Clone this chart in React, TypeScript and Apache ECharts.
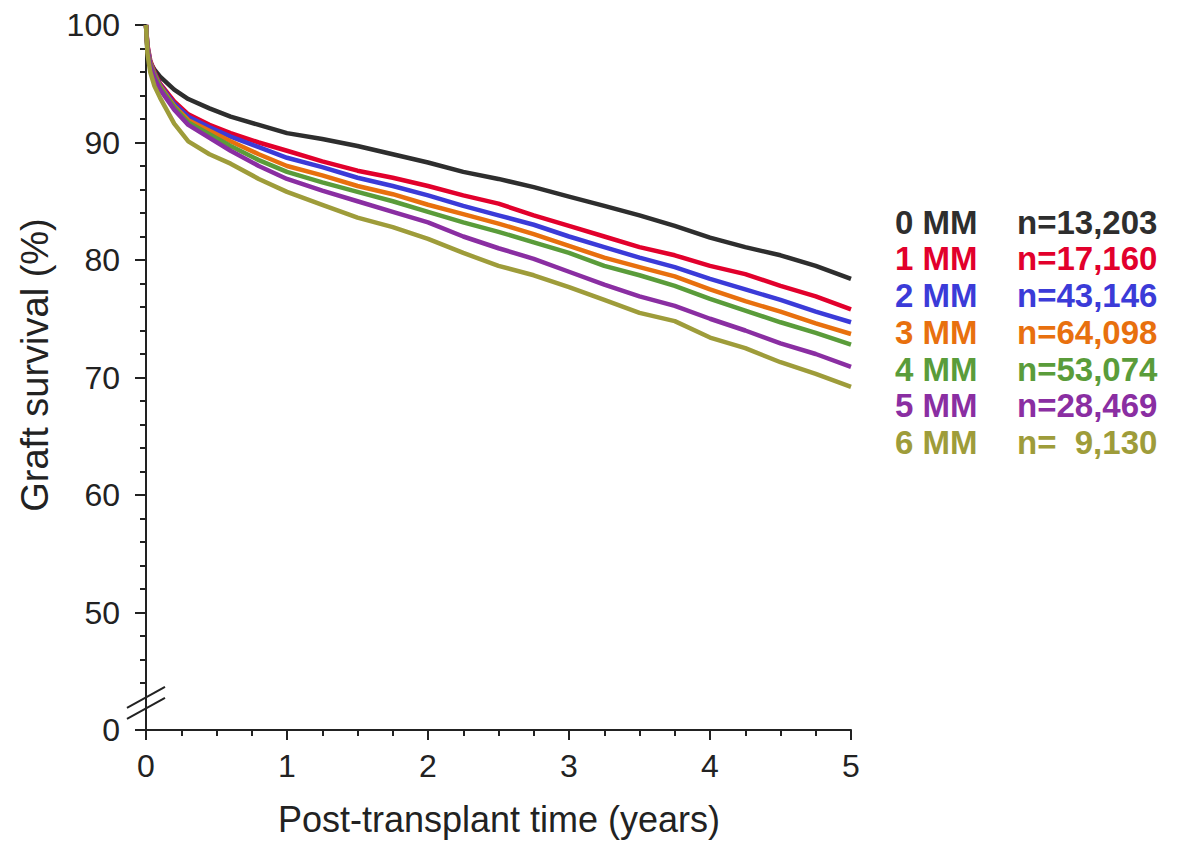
import React, { useEffect, useRef } from "react";
import * as echarts from "echarts";

// Post-transplant time (years)
const TIMES = [0, 0.01, 0.03, 0.06, 0.1, 0.2, 0.3, 0.45, 0.6, 0.8, 1, 1.25, 1.5, 1.75, 2, 2.25, 2.5, 2.75, 3, 3.25, 3.5, 3.75, 4, 4.25, 4.5, 4.75, 5];

// Graft survival (%) per HLA mismatch group
const MM0 = [100, 97.8, 96.8, 96.2, 95.6, 94.5, 93.7, 92.9, 92.2, 91.5, 90.8, 90.3, 89.7, 89.0, 88.3, 87.5, 86.9, 86.2, 85.4, 84.6, 83.8, 82.9, 81.9, 81.1, 80.4, 79.5, 78.4];
const MM1 = [100, 98.3, 97.0, 96.0, 95.0, 93.5, 92.4, 91.5, 90.8, 90.0, 89.3, 88.4, 87.6, 87.0, 86.3, 85.5, 84.8, 83.8, 82.9, 82.0, 81.1, 80.4, 79.5, 78.8, 77.8, 76.9, 75.8];
const MM2 = [100, 98.2, 96.9, 95.9, 94.9, 93.3, 92.2, 91.3, 90.5, 89.6, 88.7, 87.9, 87.0, 86.3, 85.5, 84.6, 83.8, 83.0, 82.0, 81.1, 80.2, 79.4, 78.4, 77.5, 76.6, 75.6, 74.7];
const MM3 = [100, 98.1, 96.8, 95.8, 94.8, 93.1, 91.9, 91.0, 90.1, 89.0, 88.0, 87.2, 86.3, 85.6, 84.7, 83.9, 83.1, 82.2, 81.2, 80.2, 79.4, 78.6, 77.5, 76.5, 75.6, 74.6, 73.7];
const MM4 = [100, 98.0, 96.7, 95.7, 94.7, 93.0, 91.7, 90.7, 89.7, 88.5, 87.5, 86.6, 85.8, 85.0, 84.1, 83.2, 82.4, 81.5, 80.6, 79.5, 78.7, 77.8, 76.7, 75.7, 74.7, 73.8, 72.8];
const MM5 = [100, 98.0, 96.6, 95.5, 94.5, 92.8, 91.5, 90.4, 89.3, 88.0, 86.9, 85.9, 85.0, 84.1, 83.2, 82.0, 81.0, 80.1, 79.0, 77.9, 76.9, 76.1, 75.0, 74.0, 72.9, 72.0, 70.9];
const MM6 = [100, 97.6, 96.0, 94.8, 93.8, 91.6, 90.1, 89.0, 88.2, 86.9, 85.8, 84.7, 83.6, 82.8, 81.8, 80.6, 79.5, 78.7, 77.7, 76.6, 75.5, 74.8, 73.4, 72.5, 71.3, 70.3, 69.2];

const SERIES_VALUES = [MM0, MM1, MM2, MM3, MM4, MM5, MM6];
const GROUPS = ["0 MM", "1 MM", "2 MM", "3 MM", "4 MM", "5 MM", "6 MM"];
const COUNTS = ["n=13,203", "n=17,160", "n=43,146", "n=64,098", "n=53,074", "n=28,469", "n=\u00a0\u00a09,130"];
const COLORS = ["#2e2e2e", "#e2002c", "#3b3bd8", "#e8700e", "#5a9c3a", "#8a2ea2", "#9e9c3a"];

// y axis: the bottom of the axis (value 40 on the scale) is shown as "0" after a break
const Y_MIN = 40;
const Y_MAX = 100;
const Y_BREAK_VALUE = 42.3;
const Y_HIDDEN_MINOR = 42;

const X_TITLE = "Post-transplant time (years)";
const Y_TITLE = "Graft survival (%)";

const FONT = "'Liberation Sans', Arial, Helvetica, sans-serif";
const AXIS_COLOR = "#222";

export default function App() {
  const ref = useRef<HTMLDivElement>(null);

  useEffect(() => {
    if (!ref.current) return;
    const chart = echarts.init(ref.current, null, { renderer: "svg" });

    chart.setOption({
      animation: false,
      grid: { left: 146, right: 330, top: 25, bottom: 113, containLabel: false },
      xAxis: {
        type: "value",
        min: 0,
        max: 5,
        interval: 1,
        axisLine: { onZero: false, lineStyle: { color: AXIS_COLOR, width: 2 } },
        axisTick: { length: 10, lineStyle: { color: AXIS_COLOR, width: 2 } },
        minorTick: { show: true, splitNumber: 4, length: 6, lineStyle: { color: AXIS_COLOR, width: 2 } },
        splitLine: { show: false },
        minorSplitLine: { show: false },
        axisLabel: { fontSize: 32, color: AXIS_COLOR, margin: 20, fontFamily: FONT },
      },
      yAxis: {
        type: "value",
        min: Y_MIN,
        max: Y_MAX,
        interval: 10,
        axisLine: { onZero: false, lineStyle: { color: AXIS_COLOR, width: 2 } },
        axisTick: { length: 11, lineStyle: { color: AXIS_COLOR, width: 2 } },
        minorTick: { show: true, splitNumber: 5, length: 6, lineStyle: { color: AXIS_COLOR, width: 2 } },
        splitLine: { show: false },
        minorSplitLine: { show: false },
        axisLabel: {
          fontSize: 32,
          color: AXIS_COLOR,
          margin: 26,
          fontFamily: FONT,
          formatter: (v: number) => (v === Y_MIN ? "0" : String(v)),
        },
      },
      series: SERIES_VALUES.map((vals, i) => ({
        type: "line",
        name: GROUPS[i],
        data: TIMES.map((t, j) => [t, vals[j]]),
        showSymbol: false,
        symbol: "none",
        lineStyle: { color: COLORS[i], width: 4.5 },
        itemStyle: { color: COLORS[i] },
        z: 2 + i,
      })),
    });

    const x0 = chart.convertToPixel({ xAxisIndex: 0 }, 0) as number;
    const yb = chart.convertToPixel({ yAxisIndex: 0 }, Y_BREAK_VALUE) as number;
    const yHidden = chart.convertToPixel({ yAxisIndex: 0 }, Y_HIDDEN_MINOR) as number;

    const legendTexts: any[] = [];
    GROUPS.forEach((g, i) => {
      const y = 222 + i * 36.75;
      legendTexts.push({
        type: "text",
        x: 895,
        y,
        style: { text: g, fill: COLORS[i], font: `bold 33px ${FONT}`, align: "left", verticalAlign: "middle" },
      });
      legendTexts.push({
        type: "text",
        x: 1017,
        y,
        style: { text: COUNTS[i], fill: COLORS[i], font: `bold 33px ${FONT}`, align: "left", verticalAlign: "middle" },
      });
    });

    chart.setOption({
      graphic: [
        {
          type: "rect",
          shape: { x: x0 - 8, y: yHidden - 2, width: 7, height: 4 },
          style: { fill: "#fff" },
          z: 100,
        },
        {
          type: "line",
          shape: { x1: x0 - 19, y1: yb - 5.5 + 10.5, x2: x0 + 19, y2: yb - 5.5 - 10.5 },
          style: { stroke: AXIS_COLOR, lineWidth: 2 },
          z: 101,
        },
        {
          type: "line",
          shape: { x1: x0 - 19, y1: yb + 5.5 + 10.5, x2: x0 + 19, y2: yb + 5.5 - 10.5 },
          style: { stroke: AXIS_COLOR, lineWidth: 2 },
          z: 101,
        },
        {
          type: "text",
          x: 499,
          y: 819,
          style: { text: X_TITLE, fill: AXIS_COLOR, font: `36px ${FONT}`, align: "center", verticalAlign: "middle" },
        },
        {
          type: "text",
          x: 35,
          y: 365,
          rotation: Math.PI / 2,
          style: { text: Y_TITLE, fill: AXIS_COLOR, font: `38px ${FONT}`, align: "center", verticalAlign: "middle" },
        },
        ...legendTexts,
      ],
    });

    return () => chart.dispose();
  }, []);

  return (
    <div
      ref={ref}
      style={{ position: "fixed", left: 0, top: 0, width: 1181, height: 843, background: "#fff" }}
    />
  );
}
